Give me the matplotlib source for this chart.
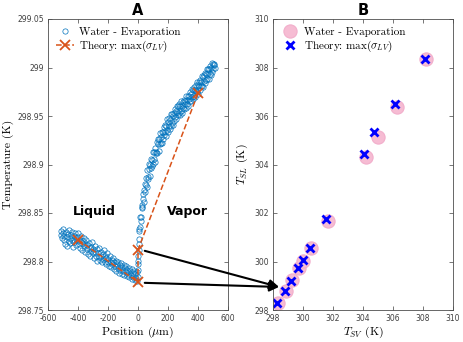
import matplotlib
matplotlib.use('Agg')
import matplotlib.pyplot as plt
from matplotlib.patches import ConnectionPatch

plt.rcParams['mathtext.fontset'] = 'cm'
plt.rcParams['font.family'] = 'DejaVu Sans'
plt.rcParams['axes.unicode_minus'] = False

# Panel A: measured temperature profile
liq_x = [-515, -510, -506, -502, -498, -494, -490, -485, -481, -476, -472, -468, -463, -459, -455,
         -450, -446, -441, -437, -433, -428, -424, -420, -415, -411, -406, -402, -398, -393, -389,
         -385, -380, -376, -372, -367, -363, -358, -354, -350, -345, -341, -337, -332, -328, -323,
         -319, -315, -310, -306, -302, -297, -293, -288, -284, -280, -275, -271, -267, -262, -258,
         -253, -249, -245, -240, -236, -232, -227, -223, -218, -214, -210, -205, -201, -197, -192,
         -188, -183, -179, -175, -170, -166, -162, -157, -153, -148, -144, -140, -135, -131, -127,
         -122, -118, -113, -109, -105, -100, -96, -92, -87, -83, -78, -74, -70, -65, -61,
         -57, -52, -48, -43, -39, -35, -30, -26, -22, -17, -13, -8, -4]
liq_t = [298.827, 298.831, 298.824, 298.829, 298.833, 298.822, 298.826, 298.818, 298.830, 298.825,
         298.816, 298.828, 298.821, 298.832, 298.824, 298.819, 298.827, 298.830, 298.822, 298.815,
         298.826, 298.820, 298.829, 298.823, 298.817, 298.825, 298.821, 298.829, 298.818, 298.822,
         298.814, 298.826, 298.819, 298.812, 298.821, 298.816, 298.824, 298.810, 298.818, 298.822,
         298.813, 298.817, 298.808, 298.819, 298.814, 298.806, 298.815, 298.811, 298.820, 298.809,
         298.813, 298.804, 298.816, 298.810, 298.806, 298.813, 298.801, 298.809, 298.814, 298.805,
         298.802, 298.810, 298.806, 298.799, 298.808, 298.803, 298.812, 298.800, 298.806, 298.797,
         298.804, 298.809, 298.799, 298.803, 298.795, 298.806, 298.800, 298.794, 298.802, 298.797,
         298.804, 298.792, 298.799, 298.795, 298.801, 298.790, 298.797, 298.793, 298.800, 298.788,
         298.796, 298.791, 298.798, 298.787, 298.794, 298.790, 298.796, 298.786, 298.793, 298.789,
         298.795, 298.785, 298.791, 298.787, 298.793, 298.784, 298.790, 298.786, 298.792, 298.782,
         298.788, 298.784, 298.790, 298.781, 298.787, 298.783, 298.789, 298.780]

vap_x = [0, 1, -1, 2, 3, 5, 4, 6, 8, 10, 13, 16, 18, 21, 24, 27, 30, 33, 36, 39, 42, 45, 48,
         52, 55, 58, 62, 65, 68, 72, 75, 78, 82, 85, 88, 92, 95, 98, 102, 105, 108, 112, 115,
         118, 122, 125, 128, 132, 135, 138, 142, 145, 148, 152, 155, 158, 162, 165, 168, 172,
         175, 178, 182, 185, 188, 192, 195, 198, 202, 205, 208, 212, 215, 218, 222, 225, 228,
         232, 235, 238, 242, 245, 248, 252, 255, 258, 262, 265, 268, 272, 275, 278, 282, 285,
         288, 292, 295, 298, 302, 305, 308, 312, 315, 318, 322, 325, 328, 332, 335, 338, 342,
         345, 348, 352, 355, 358, 362, 365, 368, 372, 375, 378, 382, 385, 388, 392, 395, 398,
         402, 405, 408, 412, 415, 418, 422, 425, 428, 432, 435, 438, 442, 445, 448, 452, 455,
         458, 462, 465, 468, 472, 475, 478, 482, 485, 488, 492, 495, 498, 502, 505, 508, 512]
vap_t = [298.784, 298.791, 298.797, 298.801, 298.806, 298.812, 298.818, 298.823,
         298.833, 298.831, 298.846, 298.836, 298.846, 298.842, 298.856, 298.858, 298.855, 298.870,
         298.864, 298.861, 298.874, 298.880, 298.872,
         298.879, 298.886, 298.877, 298.894, 298.887, 298.885, 298.895, 298.901, 298.888, 298.899,
         298.896, 298.906, 298.898, 298.905, 298.913, 298.901, 298.906, 298.913, 298.903, 298.917,
         298.913, 298.912, 298.923, 298.912, 298.921, 298.926, 298.914, 298.926, 298.921, 298.932,
         298.922, 298.928, 298.922, 298.934, 298.933, 298.926, 298.939,
         298.930, 298.934, 298.941, 298.929, 298.940, 298.936, 298.947, 298.934, 298.944, 298.940,
         298.948, 298.937, 298.946, 298.940, 298.952, 298.943, 298.952,
         298.941, 298.950, 298.953, 298.945, 298.957, 298.949, 298.955, 298.947, 298.960, 298.954,
         298.951, 298.960, 298.953, 298.962, 298.951, 298.960, 298.965,
         298.955, 298.960, 298.953, 298.964, 298.958, 298.967, 298.957, 298.965, 298.962, 298.971,
         298.958, 298.967, 298.962, 298.971, 298.960, 298.971, 298.968,
         298.975, 298.965, 298.973, 298.965, 298.978, 298.970, 298.977, 298.968, 298.980, 298.971,
         298.977, 298.970, 298.982, 298.976, 298.985, 298.975, 298.982,
         298.973, 298.985, 298.981, 298.987, 298.977, 298.985, 298.981, 298.991, 298.981, 298.990,
         298.980, 298.992, 298.986, 298.994, 298.984, 298.993, 298.987,
         298.998, 298.988, 298.994, 298.998, 298.988, 298.998, 298.993, 299.002, 298.992, 299.000,
         299.005, 298.995, 299.004, 298.998, 299.004, 299.003, 298.999]

theory_x = [-400, 0, 0, 400]
theory_t = [298.8224, 298.7787, 298.8121, 298.9733]

# Panel B: T_SL vs T_SV
water_tsv = [298.31, 298.87, 299.27, 299.73, 300.02, 300.53, 301.65, 304.20, 304.98, 306.25, 308.20]
water_tsl = [298.28, 298.80, 299.22, 299.75, 300.03, 300.54, 301.68, 304.31, 305.12, 306.38, 308.36]
theo_tsv = [298.27, 298.82, 299.22, 299.67, 299.98, 300.47, 301.51, 304.07, 304.75, 306.11, 308.13]
theo_tsl = [298.28, 298.78, 299.21, 299.72, 300.06, 300.57, 301.74, 304.42, 305.35, 306.50, 308.36]

blue = '#0072BD'
orange = '#D95319'
serif = 'cmr10'
tick_fs = 5.5
lab_fs = 8.5

fig = plt.figure(figsize=(4.64, 3.42), dpi=100)
axA = fig.add_axes([48 / 464, 1 - 310 / 342, 180 / 464, 291 / 342])
axB = fig.add_axes([273 / 464, 1 - 310 / 342, 180 / 464, 291 / 342])

axA.plot(liq_x + vap_x, liq_t + vap_t, 'o', mfc='none', mec=blue, ms=3.8, mew=0.5,
         label='Water - Evaporation')
axA.plot(theory_x, theory_t, '--x', color=orange, lw=1.1, ms=7, mew=1.3,
         label=r'Theory: max($\sigma_{LV}$)')
axA.set_xlim(-600, 600)
axA.set_ylim(298.75, 299.05)
axA.set_xticks([-600, -400, -200, 0, 200, 400, 600])
axA.set_yticks([298.75, 298.8, 298.85, 298.9, 298.95, 299, 299.05])
axA.set_yticklabels(['298.75', '298.8', '298.85', '298.9', '298.95', '299', '299.05'])
axA.set_xlabel(r'Position ($\mu$m)', fontsize=lab_fs, family=serif, labelpad=1)
axA.set_ylabel('Temperature (K)', fontsize=lab_fs, family=serif, labelpad=2)
axA.set_title('A', fontsize=10.5, fontweight='bold', pad=3)
axA.text(-290, 298.852, 'Liquid', fontsize=9, fontweight='bold', ha='center', va='center')
axA.text(330, 298.852, 'Vapor', fontsize=9, fontweight='bold', ha='center', va='center')
axA.legend(loc='upper left', frameon=False, prop={'family': serif, 'size': 8},
           handlelength=1.6, borderaxespad=0.3, labelspacing=0.2, handletextpad=0.5)

axB.plot(water_tsv, water_tsl, 'o', color='#F6BCD3', mec='#F2AECB', ms=9.5, mew=0.8,
         label='Water - Evaporation')
axB.plot(theo_tsv, theo_tsl, 'x', color='blue', ms=6, mew=2,
         label=r'Theory: max($\sigma_{LV}$)')
axB.set_xlim(298, 310)
axB.set_ylim(298, 310)
axB.set_xticks(range(298, 311, 2))
axB.set_yticks(range(298, 311, 2))
axB.set_xlabel(r'$T_{SV}$ (K)', fontsize=lab_fs, family=serif, labelpad=1)
axB.set_ylabel(r'$T_{SL}$ (K)', fontsize=lab_fs, family=serif, labelpad=3)
axB.set_title('B', fontsize=10.5, fontweight='bold', pad=3)
axB.legend(loc='upper left', frameon=False, prop={'family': serif, 'size': 8},
           handlelength=1.6, borderaxespad=0.3, labelspacing=0.2, handletextpad=0.5)

for ax in (axA, axB):
    ax.tick_params(direction='in', top=True, right=True, labelsize=tick_fs,
                   length=3, width=0.5, colors='0.25', pad=3)
    for s in ax.spines.values():
        s.set_linewidth(0.6)
        s.set_color('0.3')

# arrows from panel A interface temperatures to panel B
for y0 in (298.811, 298.778):
    con = ConnectionPatch(xyA=(45, y0), coordsA=axA.transData,
                          xyB=(298.4, 298.95), coordsB=axB.transData,
                          arrowstyle='-|>', mutation_scale=14, lw=1.5, color='black')
    fig.add_artist(con)

fig.savefig('out.png', dpi=100)
